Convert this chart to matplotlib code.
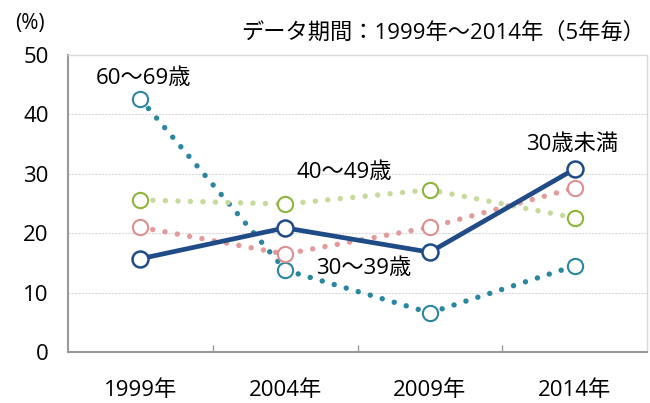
import matplotlib.pyplot as plt

plt.rcParams['font.family'] = ['Open Sans', 'Noto Sans CJK JP', 'DejaVu Sans']

years = ['1999年', '2004年', '2009年', '2014年']
under30 = [15.7, 20.9, 16.8, 30.8]
age30s = [21.0, 16.5, 21.0, 27.6]
age40s = [25.6, 24.9, 27.3, 22.6]
age60s = [42.6, 13.8, 6.6, 14.5]

x = list(range(len(years)))

fig = plt.figure(figsize=(6.5, 4.03), dpi=100)
ax = fig.add_axes([68 / 650, 1 - 352 / 403, (647 - 68) / 650, (352 - 55) / 403])

dot = (0, (0.01, 2.3))
# 点線の系列 (線の色, マーカーの色)
series = [
    (age60s, '#2b86a0', '#2b86a0'),
    (age40s, '#c6da9c', '#8fb43c'),
    (age30s, '#e29a9a', '#dd8f8f'),
]
for vals, lc, mc in series:
    ax.plot(x, vals, linestyle=dot, color=lc, linewidth=3.9,
            dash_capstyle='round', zorder=2)
    ax.plot(x, vals, linestyle='none', marker='o', markersize=11,
            markerfacecolor='white', markeredgecolor=mc, markeredgewidth=1.5, zorder=3)

ax.plot(x, under30, color='#1f4b87', linewidth=3.4, marker='o', markersize=11.5,
        markerfacecolor='white', markeredgecolor='#1f4b87', markeredgewidth=1.8, zorder=4)

ax.set_xlim(-0.5, 3.5)
ax.set_ylim(0, 50)
ax.set_yticks([0, 10, 20, 30, 40, 50])
ax.set_xticks([0.5, 1.5, 2.5])
ax.set_xticklabels([])
ax.tick_params(axis='x', direction='in', length=5, color='#999999', width=1)
ax.tick_params(axis='y', length=0, labelsize=16, pad=14)
for v in [10, 20, 30, 40]:
    ax.axhline(v, color='#d9d9d9', linewidth=0.8, linestyle=(0, (2, 1)), zorder=1)

for s in ['top', 'right']:
    ax.spines[s].set_color('#d9d9d9')
    ax.spines[s].set_linewidth(1)
for s in ['left', 'bottom']:
    ax.spines[s].set_color('#999999')
    ax.spines[s].set_linewidth(1.5)

for i, lab in enumerate(years):
    ax.text(i, -6.5, lab, ha='center', va='center', fontsize=16)

ax.text(0.02, 46.1, '60〜69歳', ha='center', va='center', fontsize=16)
ax.text(1.41, 30.3, '40〜49歳', ha='center', va='center', fontsize=16)
ax.text(1.54, 14.0, '30〜39歳', ha='center', va='center', fontsize=16)
ax.text(2.98, 35.0, '30歳未満', ha='center', va='center', fontsize=16)

fig.text(645 / 650, 1 - 33 / 403, 'データ期間：1999年〜2014年（5年毎）',
         ha='right', va='center', fontsize=16)
fig.text(30 / 650, 1 - 23 / 403, '(%)', ha='center', va='center', fontsize=15)

fig.savefig('out.png', dpi=100)
